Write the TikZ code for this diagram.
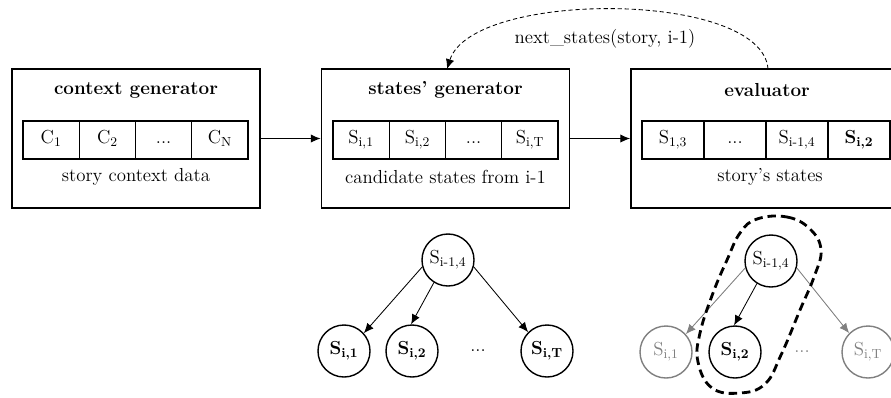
\documentclass[tikz,border=0pt]{standalone}
\usetikzlibrary{arrows.meta}
\begin{document}
\begin{tikzpicture}[x=0.025cm,y=-0.025cm,
  every node/.style={font=\fontsize{13.4}{16}\selectfont},
  bigbox/.style={draw, line width=1.2pt, minimum height=3.475cm, inner sep=0},
  cell/.style={draw, line width=0.9pt, minimum height=0.95cm, inner sep=0, text height=1.7ex, text depth=0.6ex},
  cellA/.style={cell, minimum width=1.406cm},
  cellB/.style={cell, minimum width=1.55cm},
  st/.style={draw, circle, line width=1pt, minimum size=1.3cm, inner sep=0},
  gst/.style={st, draw=gray, text=gray},
  flow/.style={line width=0.8pt, -{Latex[length=7pt,width=6pt]}},
  tedge/.style={line width=0.6pt, -{Latex[length=7pt,width=6pt]}},
  gedge/.style={tedge, draw=gray, fill=gray},
  sel/.style={line width=2pt, dash pattern=on 6pt off 3.5pt},
]
\path[use as bounding box, clip] (0,0) rectangle (891,397);

% boxes
\node[bigbox, minimum width=6.2cm] (b1) at (136,138.5) {};
\node[bigbox, minimum width=6.2cm] (b2) at (445.5,138.5) {};
\node[bigbox, minimum width=6.75cm] (b3) at (766,138.5) {};

\node (t1) at (136,90) {\textbf{context generator}};
\node (t2) at (445.5,90) {\textbf{states' generator}};
\node (t3) at (767,90) {\textbf{evaluator}};

\node (l1) at (136,177) {story context data};
\node (l2) at (445.5,177) {candidate states from i-1};
\node (l3) at (770,177) {story's states};

% cells box 1
\node[cellA] (c11) at (51.1,140) {C\textsubscript{1}};
\node[cellA] (c12) at (107.4,140) {C\textsubscript{2}};
\node[cellA] (c13) at (163.6,140) {...};
\node[cellA] (c14) at (219.9,140) {C\textsubscript{N}};
% cells box 2
\node[cellA] (c21) at (361.1,140) {S\textsubscript{i,1}};
\node[cellA] (c22) at (417.4,140) {S\textsubscript{i,2}};
\node[cellA] (c23) at (473.6,140) {...};
\node[cellA] (c24) at (529.9,140) {S\textsubscript{i,T}};
% cells box 3
\node[cellB] (c31) at (673,140) {S\textsubscript{1,3}};
\node[cellB] (c32) at (735,140) {...};
\node[cellB] (c33) at (797,140) {S\textsubscript{i-1,4}};
\node[cellB] (c34) at (859,140) {\textbf{S\textsubscript{i,2}}};

\draw[flow] (b1.east) -- (b2.west);
\draw[flow] (b2.west -| b2.east) -- (b3.west);

% feedback loop
\coordinate (fb3) at (768,69);
\coordinate (fb2) at (447,69);
\draw[line width=0.6pt, dash pattern=on 3pt off 2pt, -{Latex[length=7pt,width=6pt]}]
  (fb3) .. controls (762,-10) and (472,-10) .. (fb2);
\node (nl) at (605,39) {next\_states(story, i-1)};

% middle tree
\node[st] (r1) at (448,260) {S\textsubscript{i-1,4}};
\node[st] (m1) at (344,351) {\textbf{S\textsubscript{i,1}}};
\node[st] (m2) at (412,351) {\textbf{S\textsubscript{i,2}}};
\node (md) at (478,351) {...};
\node[st] (m3) at (547,351) {\textbf{S\textsubscript{i,T}}};
\draw[tedge] (r1.195) -- (m1.42);
\draw[tedge] (r1.238) -- (m2.92);
\draw[tedge] (r1.345) -- (m3.135);

% right tree
\node[st] (r2) at (771,261) {S\textsubscript{i-1,4}};
\node[gst] (n1) at (666,352) {S\textsubscript{i,1}};
\node[st] (n2) at (735,352) {\textbf{S\textsubscript{i,2}}};
\node[text=gray] (nd) at (802,352) {...};
\node[gst] (n3) at (868,352) {S\textsubscript{i,T}};
\draw[gedge] (r2.195) -- (n1.42);
\draw[tedge] (r2.238) -- (n2.92);
\draw[gedge] (r2.345) -- (n3.135);

% selection outline
\draw[sel] plot[smooth cycle, tension=0.7] coordinates {
  (757,219) (787,217) (810,229) (821,250) (814,277) (800,310) (781,355)
  (765,384) (740,393) (712,388) (698,362) (700,333) (713,293) (727,260) (740,233)};
\end{tikzpicture}
\end{document}
